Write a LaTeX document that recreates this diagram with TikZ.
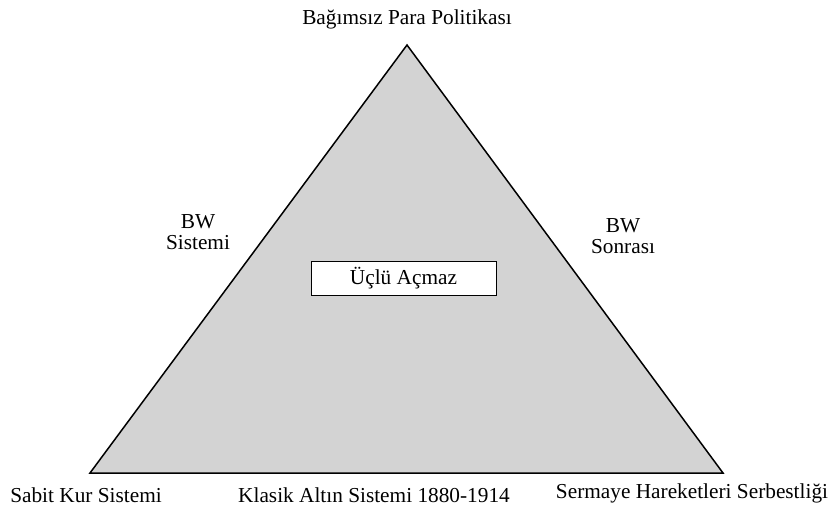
\documentclass[tikz,border=0pt]{standalone}
\usepackage{fontspec}
\setmainfont{Liberation Serif}
\definecolor{trifill}{RGB}{211,211,211}
\begin{document}
\begin{tikzpicture}[x=1pt,y=-1pt,
  lbl/.style={font=\fontsize{21.3}{21}\selectfont, inner sep=0pt, align=center},
  edge/.style={draw=black, line width=1.5pt, line join=miter}]
\useasboundingbox (0,0) rectangle (832,506);
\coordinate (T) at (407,45);
\coordinate (L) at (90,473);
\coordinate (R) at (723,473);
\filldraw[edge, fill=trifill] (T) -- (L) -- (R) -- cycle;
\node[draw=black, line width=1pt, fill=white, minimum width=185pt, minimum height=34pt, font=\fontsize{21.3}{21}\selectfont] (box) at (403.5,278) {Üçlü Açmaz};
\node[lbl] (top) at (407,19) {Bağımsız Para Politikası};
\node[lbl] (sabit) at (86,495) {Sabit Kur Sistemi};
\node[lbl] (klasik) at (374,495) {Klasik Altın Sistemi 1880-1914};
\node[lbl] (serm) at (692,493) {Sermaye Hareketleri Serbestliği};
\node[lbl] (bws) at (198,232) {BW\\Sistemi};
\node[lbl] (bwn) at (623,236) {BW\\Sonrası};
\end{tikzpicture}
\end{document}
